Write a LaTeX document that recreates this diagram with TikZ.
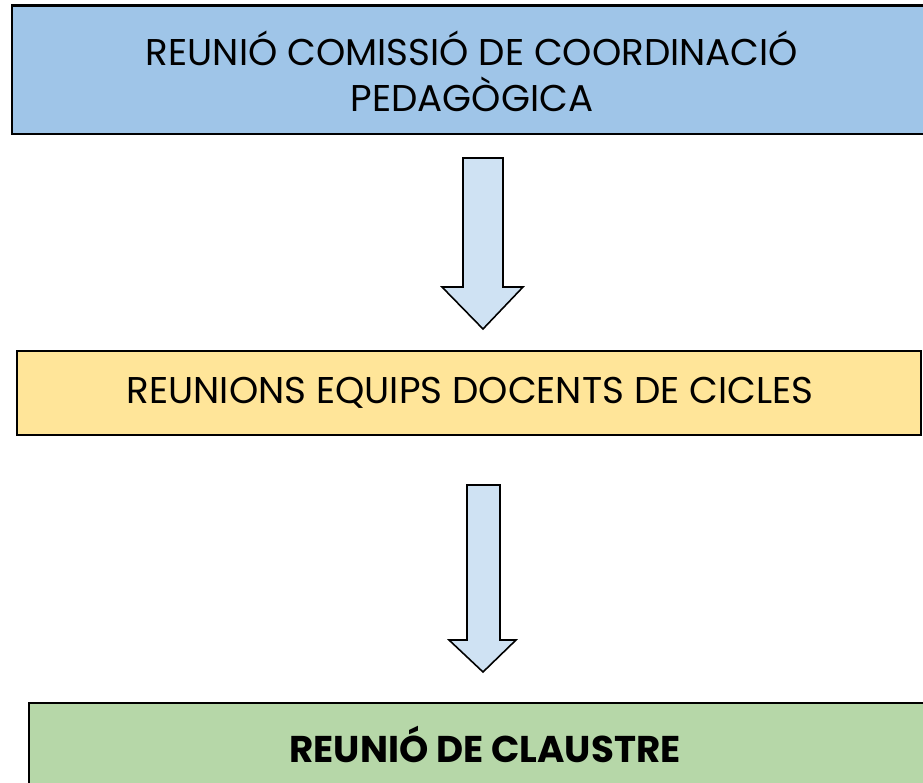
\documentclass[tikz,border=0pt]{standalone}
\usepackage{fontspec}
\setmainfont{Poppins}
\usepackage{xcolor}
\usetikzlibrary{calc}
\usetikzlibrary{positioning}
\definecolor{box-blue}{RGB}{159, 197, 232}
\definecolor{arrow-blue}{RGB}{207, 226, 243}
\definecolor{box-yellow}{RGB}{255, 229, 153}
\definecolor{box-green}{RGB}{182, 215, 168}
\tikzset{
  boxtext/.style={font=\fontsize{21.2}{26.3}\selectfont, align=center, inner sep=0pt},
  blockarrow/.style={fill=arrow-blue, draw=black, line width=0.9pt, line join=miter}
}

\begin{document}
\begin{tikzpicture}[x=0.02cm, y=-0.02cm]
\useasboundingbox (0,0) rectangle (923,783);
\clip (0,0) rectangle (923,783);
            \filldraw[fill=box-blue, draw=black, line width=1.7pt] (12,6) rectangle (940,134);
\filldraw[fill=box-yellow, draw=black, line width=1.5pt] (17,351) rectangle (921,435);
\filldraw[fill=box-green, draw=black, line width=1.7pt] (29,703) rectangle (940,800);
\node[boxtext] (comissio) at (472,71) {REUNIÓ COMISSIÓ DE COORDINACIÓ\\PEDAGÒGICA};
\node[boxtext] (equips) at (470,393) {REUNIONS EQUIPS DOCENTS DE CICLES};
\node[boxtext, font=\fontsize{21.2}{26.3}\selectfont\bfseries] (claustre) at (485,744) {REUNIÓ DE CLAUSTRE};
% fletxes
\filldraw[blockarrow] (463,158) -- (503,158) -- (503,287) -- (523,287) -- (483,329) -- (442,287) -- (463,287) -- cycle;
\filldraw[blockarrow] (467,485) -- (500,485) -- (500,640) -- (516,640) -- (483,672) -- (449,640) -- (467,640) -- cycle;
        \end{tikzpicture}
\end{document}
